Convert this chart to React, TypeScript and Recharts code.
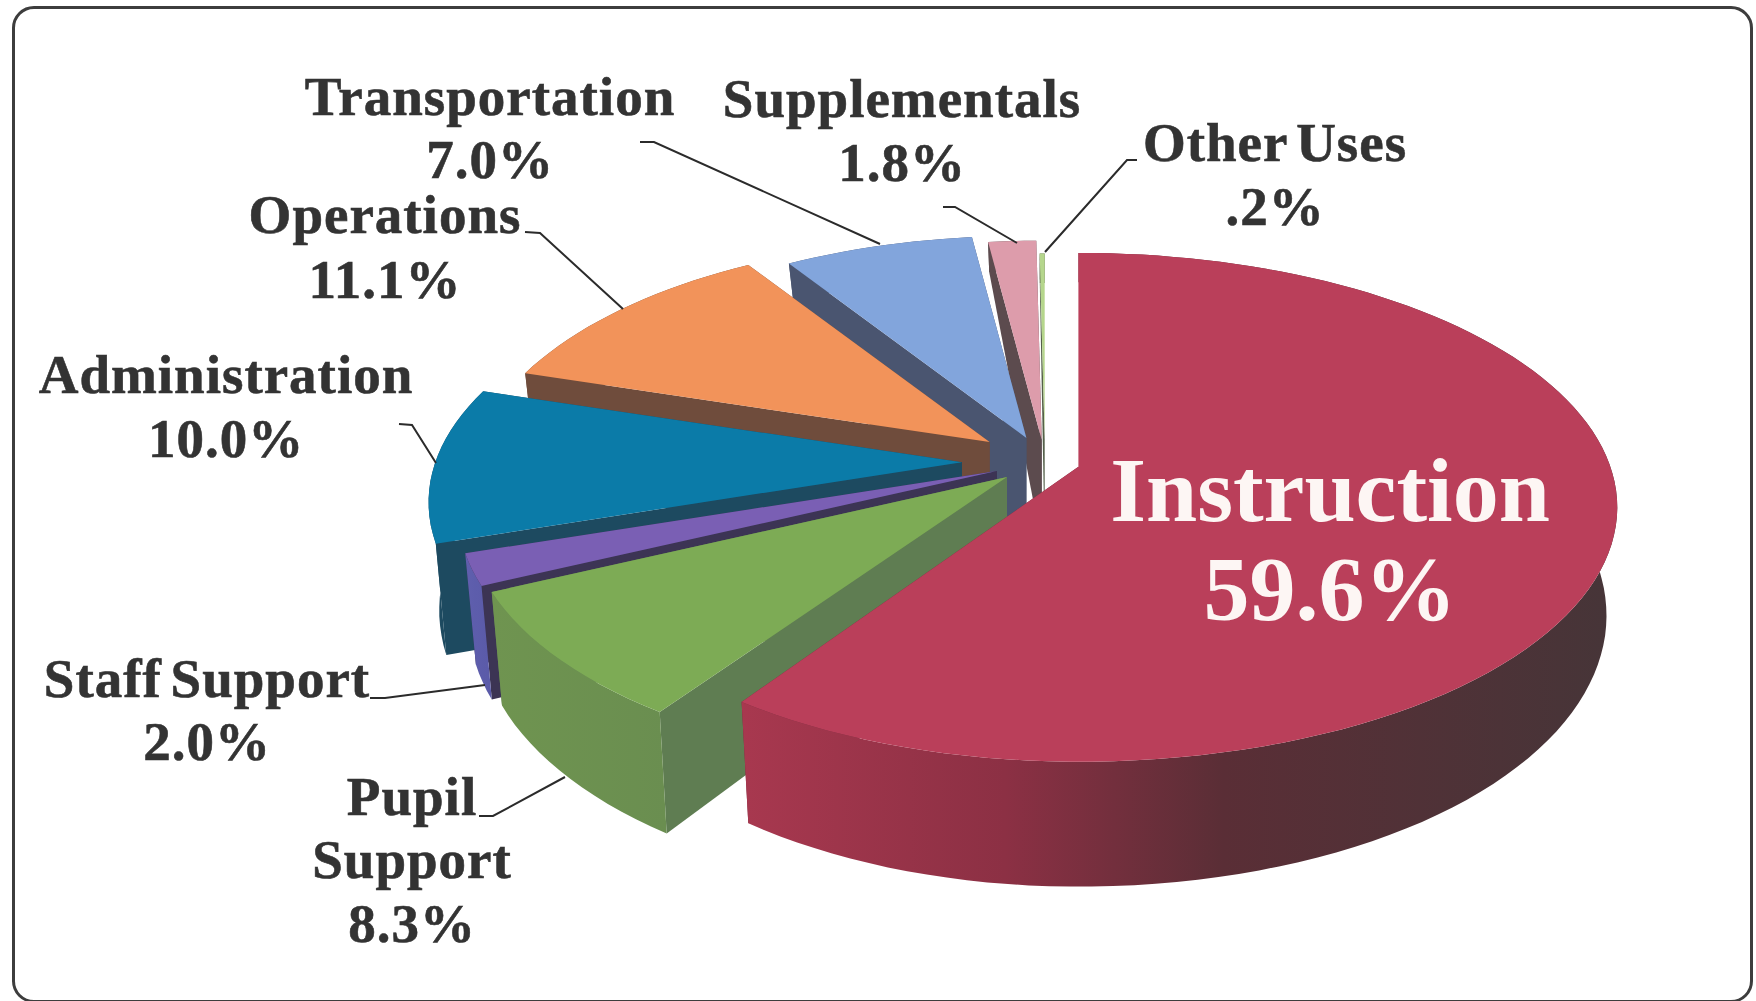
import React from 'react';
import { PieChart, Pie } from 'recharts';

// listed counter-clockwise from 12 o'clock, so slices paint back to front
const categories = ['Other Uses', 'Supplementals', 'Transportation', 'Operations', 'Administration', 'Staff Support', 'Pupil Support', 'Instruction'];
const shares = [0.2, 1.8, 7.0, 11.1, 10.0, 2.0, 8.3, 59.6];

const topColors = ['#b5d68c', '#dd9cab', '#82a5dc', '#f2935a', '#0b7ba8', '#7a5fb4', '#7dab55', '#ba3f5a'];
const cutColors = ['#55604a', '#5c4b4e', '#4a5570', '#6f4c3c', '#1d4a60', '#3c3454', '#5f7d52', '#6e2a3a'];
const rimStart = ['#55604a', '#5c4b4e', '#4a5570', '#6f4c3c', '#1d4a60', '#5f5fae', '#6f9450', '#a8384f'];
const rimEnd = ['#55604a', '#5c4b4e', '#4a5570', '#6f4c3c', '#1d4a60', '#5a5aa8', '#6a8e50', '#463538'];
const explode = [48, 48, 55, 70, 83, 52, 50, 35];
// slices at the back of the tilted disc read smaller on the page
const radiusScale = [0.87, 0.93, 0.945, 0.96, 0.99, 1, 1, 1];
const leftScale = [1, 1, 1, 1, 1, 1, 1, 0.97];

const labelLines = [['Other Uses', '.2%'], ['Supplementals', '1.8%'], ['Transportation', '7.0%'], ['Operations', '11.1%'], ['Administration', '10.0%'], ['Staff Support', '2.0%'], ['Pupil', 'Support', '8.3%'], ['Instruction', '59.6%']];
const labelX = [1275, 902, 490, 385, 226, 207, 412, 1330];
const labelBaselines = [[161, 225], [117, 181], [115, 178], [233, 298], [393, 457], [697, 760], [815, 878, 942], [521, 620]];
const leaderLines = [
  '1137,160 1127,160 1045,252',
  '943,207 955,207 1017,243',
  '640,142 654,142 880,244',
  '525,232 540,233 623,309',
  '399,424 412,425 436,463',
  '370,698 385,698 485,685',
  '479,816 493,816 565,777',
  '',
];

const WIDTH = 1756;
const HEIGHT = 1001;
const CENTER_X = 1045;
const CENTER_Y = 462;
const RADIUS = 532;
const TILT = 248 / 532;
const PERSPECTIVE = 0.159;
const DEPTH = 105;
const BASE_SHRINK = 0.98;
const FONT = '"Liberation Serif", serif';

const data = categories.map((name, i) => ({ name, value: shares[i] }));

const rad = (deg: number) => (deg * Math.PI) / 180;

const SliceShape = (props: any) => {
  const { cx, cy, outerRadius, startAngle, endAngle, midAngle, index } = props;
  const ax = cx + explode[index] * Math.cos(rad(midAngle));
  const ay = cy - explode[index] * Math.sin(rad(midAngle)) * TILT;
  const r = outerRadius * radiusScale[index];

  // point on the tilted disc, top face or extruded base
  const pt = (deg: number, base: boolean) => {
    const u = Math.cos(rad(deg));
    const v = Math.sin(rad(deg));
    const s = 1 / (1 + PERSPECTIVE * v);
    const drop = DEPTH * (v > 0 ? 1 - 0.72 * v : 1 - 0.19 * v);
    const x = ax + r * u * s * (base ? BASE_SHRINK : 1) * (u < 0 ? leftScale[index] : 1);
    const y = ay - r * TILT * v * s + (base ? drop : 0);
    return `${x.toFixed(1)},${y.toFixed(1)}`;
  };

  const steps = Math.max(2, Math.ceil(Math.abs(endAngle - startAngle) / 2));
  const angles = Array.from({ length: steps + 1 }, (_, i) => startAngle + ((endAngle - startAngle) * i) / steps);
  const top = angles.map(a => pt(a, false));
  const base = angles.map(a => pt(a, true));
  const apex = `${ax.toFixed(1)},${ay.toFixed(1)}`;
  const apexBase = `${ax.toFixed(1)},${(ay + DEPTH).toFixed(1)}`;
  const gradId = `rim-${index}`;

  return (
    <g>
      <defs>
        <linearGradient id={gradId} x1="0" y1="0" x2="1" y2="0">
          <stop offset="0" stopColor={rimStart[index]} />
          <stop offset={index === 7 ? 0.3 : 1} stopColor={index === 7 ? '#8c3044' : rimEnd[index]} />
          {index === 7 && <stop offset="0.55" stopColor="#5a2e36" />}
          {index === 7 && <stop offset="1" stopColor={rimEnd[index]} />}
        </linearGradient>
      </defs>
      <polygon points={[apex, top[0], base[0], apexBase].join(' ')} fill={cutColors[index]} />
      <polygon points={[apex, top[steps], base[steps], apexBase].join(' ')} fill={cutColors[index]} />
      <polygon points={[...top, ...[...base].reverse()].join(' ')} fill={`url(#${gradId})`} />
      <polygon points={[apex, ...top].join(' ')} fill={topColors[index]} />
    </g>
  );
};

const renderLabel = (props: any) => {
  const { index } = props;
  const big = index === 7;
  return (
    <g>
      {leaderLines[index] && <polyline points={leaderLines[index]} fill="none" stroke="#2b2b2b" strokeWidth={2} />}
      {labelLines[index].map((line, i) => (
        <text
          key={line}
          x={labelX[index]}
          y={labelBaselines[index][i]}
          textAnchor="middle"
          fontFamily={FONT}
          fontWeight="bold"
          fontSize={big ? 92 : 55}
          letterSpacing={big ? 0 : 1}
          wordSpacing={big ? 0 : -6}
          stroke={big ? 'none' : '#333333'}
          strokeWidth={big ? 0 : 0.6}
          fill={big ? '#fdf6f4' : '#333333'}
        >
          {line}
        </text>
      ))}
    </g>
  );
};

export default function App() {
  return (
    <div style={{ position: 'absolute', left: 0, top: 0, width: WIDTH, height: HEIGHT, background: '#ffffff' }}>
      <div
        style={{
          position: 'absolute',
          left: 12,
          top: 6,
          width: 1735,
          height: 991,
          border: '3px solid #3d3d3d',
          borderRadius: 22,
        }}
      />
      <div style={{ position: 'absolute', left: 0, top: 0 }}>
        <PieChart width={WIDTH} height={HEIGHT} margin={{ top: 0, right: 0, bottom: 0, left: 0 }}>
          <Pie
            data={data}
            dataKey="value"
            nameKey="name"
            cx={CENTER_X}
            cy={CENTER_Y}
            innerRadius={0}
            outerRadius={RADIUS}
            startAngle={90}
            endAngle={450}
            stroke="none"
            shape={SliceShape}
            label={renderLabel}
            labelLine={false}
            isAnimationActive={false}
          />
        </PieChart>
      </div>
    </div>
  );
}
